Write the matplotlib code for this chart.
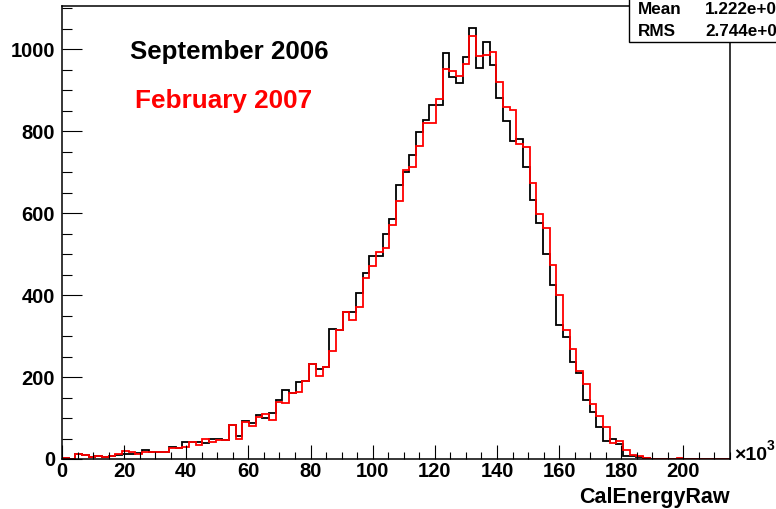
import numpy as np
import matplotlib.pyplot as plt
from matplotlib.patches import Rectangle
from matplotlib.ticker import MultipleLocator

plt.rcParams['font.family'] = ['Liberation Sans', 'DejaVu Sans']
plt.rcParams['font.weight'] = 'bold'

# CalEnergyRaw in units of 1e3, 100 bins over [0, 215]
edges = np.linspace(0, 215, 101)

sep2006 = [
    3, 1, 13, 9, 6, 7, 4, 7, 10, 11,
    13, 14, 23, 16, 16, 16, 30, 28, 42, 41,
    41, 39, 50, 48, 46, 82, 55, 93, 87, 107,
    99, 113, 144, 168, 162, 187, 191, 231, 219, 225,
    317, 316, 359, 359, 404, 453, 495, 495, 550, 585,
    668, 701, 741, 797, 827, 863, 863, 991, 933, 918,
    981, 1053, 955, 1018, 961, 882, 824, 776, 782, 713,
    633, 577, 500, 424, 328, 298, 236, 211, 144, 115,
    79, 45, 49, 36, 8, 7, 4, 2, 1, 1,
    0, 0, 0, 1, 0, 0, 0, 0, 0, 0,
]

feb2007 = [
    3, 1, 11, 10, 6, 7, 6, 8, 12, 20,
    18, 13, 17, 16, 16, 16, 27, 27, 30, 41,
    33, 48, 42, 46, 46, 82, 50, 91, 80, 103,
    111, 95, 140, 137, 160, 163, 191, 231, 203, 225,
    263, 316, 359, 339, 372, 441, 471, 506, 514, 571,
    629, 705, 713, 763, 820, 820, 878, 953, 947, 935,
    965, 1032, 983, 985, 993, 920, 858, 853, 770, 762,
    674, 598, 565, 473, 400, 315, 268, 215, 182, 134,
    106, 79, 40, 45, 23, 9, 7, 2, 1, 1,
    0, 0, 2, 1, 0, 0, 0, 0, 0, 0,
]

stat_mean = "1.222e+05"
stat_rms = "2.744e+04"

W, H = 776, 509
fig = plt.figure(figsize=(W / 100, H / 100), dpi=100)
ax = fig.add_axes([62 / W, 1 - 459 / H, 668 / W, 453 / H])

ax.stairs(sep2006, edges, color='black', lw=1.3)
ax.stairs(feb2007, edges, color='red', lw=1.3)

ax.set_xlim(0, 215)
ax.set_ylim(0, max(sep2006) * 1.05)

ax.xaxis.set_major_locator(MultipleLocator(20))
ax.xaxis.set_minor_locator(MultipleLocator(5))
ax.yaxis.set_major_locator(MultipleLocator(200))
ax.yaxis.set_minor_locator(MultipleLocator(50))

ax.tick_params(axis='both', which='both', direction='in', top=False, right=False,
               labelsize=14.5, width=0.8)
ax.tick_params(axis='x', which='major', length=10, pad=2)
ax.tick_params(axis='x', which='minor', length=5)
ax.tick_params(axis='y', which='major', length=14.4, pad=5)
ax.tick_params(axis='y', which='minor', length=7.2)
for lab in ax.get_xticklabels() + ax.get_yticklabels():
    lab.set_fontweight('bold')
for sp in ax.spines.values():
    sp.set_linewidth(1.1)

fig.text(130 / W, 1 - 52 / H, "September 2006", fontsize=18.6, fontweight='bold',
         color='black', ha='left', va='center')
fig.text(135 / W, 1 - 101 / H, "February 2007", fontsize=18.8, fontweight='bold',
         color='red', ha='left', va='center')

fig.text(730 / W, 1 - 497 / H, "CalEnergyRaw", fontsize=15.5, fontweight='bold',
         ha='right', va='center')
fig.text(734 / W, 1 - 455 / H, "×10", fontsize=14, fontweight='bold',
         ha='left', va='center')
fig.text(767 / W, 1 - 446 / H, "3", fontsize=10, fontweight='bold',
         ha='left', va='center')

# statistics box in the top right corner
box = Rectangle((629 / W, 1 - 42 / H), 0.2, 0.2, transform=fig.transFigure,
                facecolor='white', edgecolor='black', lw=1.0, zorder=5,
                clip_on=False)
fig.patches.append(box)
fig.text(638 / W, 1 - 10 / H, "Mean", fontsize=12.3, fontweight='bold',
         ha='left', va='center', zorder=6)
fig.text(705 / W, 1 - 10 / H, stat_mean, fontsize=12.3, fontweight='bold',
         ha='left', va='center', zorder=6)
fig.text(638 / W, 1 - 31 / H, "RMS", fontsize=12.3, fontweight='bold',
         ha='left', va='center', zorder=6)
fig.text(705 / W, 1 - 31 / H, stat_rms, fontsize=12.3, fontweight='bold',
         ha='left', va='center', zorder=6)

fig.savefig("out.png", dpi=100)
